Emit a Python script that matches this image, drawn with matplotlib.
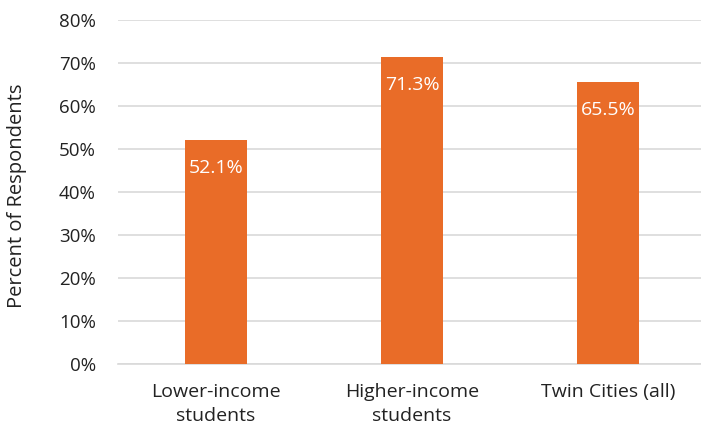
import matplotlib
matplotlib.use("Agg")
import matplotlib.pyplot as plt

categories = ["Lower-income\nstudents", "Higher-income\nstudents", "Twin Cities (all)"]
values = [52.1, 71.3, 65.5]
value_labels = ["52.1%", "71.3%", "65.5%"]
yticks = [0, 10, 20, 30, 40, 50, 60, 70, 80]

plt.rcParams['font.family'] = ['Open Sans', 'DejaVu Sans']

W, H = 701, 432
fig = plt.figure(figsize=(W / 100, H / 100), dpi=100)
ax = fig.add_axes([118 / W, (H - 364) / H, (W - 118) / W, (364 - 20) / H])

x = list(range(len(categories)))
ax.bar(x, values, width=0.315, color="#E96C28", zorder=3)
ax.set_xlim(-0.5, -0.5 + (W - 118) / 196)
ax.set_ylim(0, 80)
ax.set_yticks(yticks)
ax.set_yticklabels([f"{t}%" for t in yticks], fontsize=13.5, color="#222222")
ax.set_xticks(x)
ax.set_xticklabels(categories, fontsize=14, color="#222222", linespacing=1.4)
ax.tick_params(axis='both', length=0)
ax.tick_params(axis='y', pad=16)
ax.tick_params(axis='x', pad=14)
ax.yaxis.grid(True, color="#D9D9D9", linewidth=1.2, zorder=0)
for s in ["top", "right", "left"]:
    ax.spines[s].set_visible(False)
ax.spines["bottom"].set_color("#D9D9D9")
ax.spines["bottom"].set_linewidth(1.2)

for xi, v, lab in zip(x, values, value_labels):
    ax.text(xi, v - 6.5, lab, ha="center", va="center", color="white", fontsize=14, zorder=4)

fig.text(17 / W, 1 - 196 / H, "Percent of Respondents", rotation=90, ha="center", va="center",
         fontsize=14.5, color="#222222")

fig.savefig("out.png", dpi=100)
